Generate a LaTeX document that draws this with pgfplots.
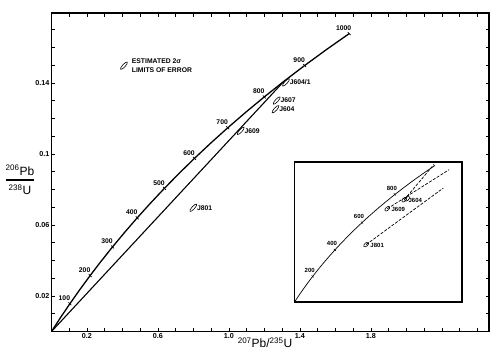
\documentclass[border=0pt]{standalone}
\usepackage{fontspec}
\setmainfont{Liberation Sans}
\usepackage{amsmath}
\usepackage{pgfplots}
\usepackage{pgfplotstable}
\pgfplotsset{compat=1.18}

\pgfdeclareplotmark{errell}{%
  \pgfpathellipse{\pgfpointorigin}{\pgfpoint{3.3pt}{3.6pt}}{\pgfpoint{-1.05pt}{0.95pt}}%
  \pgfusepathqstroke}
\pgfdeclareplotmark{errellsmall}{%
  \pgfpathellipse{\pgfpointorigin}{\pgfpoint{2.2pt}{2.0pt}}{\pgfpoint{-1.1pt}{1.2pt}}%
  \pgfusepathqstroke}

% concordia: 207Pb/235U (x), 206Pb/238U (y), t in Ma
\pgfplotstableread{
t x y
0 0 0
50 0.050475 0.007786
100 0.10350 0.015633
150 0.15920 0.023542
200 0.21771 0.031511
250 0.27917 0.039543
300 0.34374 0.047637
350 0.41156 0.055795
400 0.48281 0.064016
450 0.55766 0.072300
500 0.63628 0.080650
550 0.71887 0.089064
600 0.80563 0.097544
650 0.89677 0.10609
700 0.99251 0.11470
750 1.09308 0.12338
800 1.19873 0.13213
850 1.30971 0.14094
900 1.42629 0.14983
950 1.54876 0.15878
1000 1.67740 0.16780
}\concordia

\pgfplotstableread{
x y lab
0.10350 0.015633 100
0.21771 0.031511 200
0.34374 0.047637 300
0.48281 0.064016 400
0.63628 0.080650 500
0.80563 0.097544 600
0.99251 0.11470 700
1.19873 0.13213 800
1.42629 0.14983 900
1.67740 0.16780 1000
}\ages

\pgfplotstableread{
x y lab
1.066 0.1130 J609
1.321 0.1403 J604/1
1.269 0.1301 J607
1.262 0.1252 J604
0.799 0.0697 J801
}\samples

\pgfplotstableread{
x y lab
0.21771 0.031511 200
0.48281 0.064016 400
0.80563 0.097544 600
1.19873 0.13213 800
}\insetages

\pgfplotstableread{
x y lab
0.856 0.0706 J801
1.108 0.1146 J609
1.311 0.1257 J604
}\insetsamples

\begin{document}
\begin{tikzpicture}
\useasboundingbox (-51.5pt,-28.5pt) rectangle (448.5pt,331.5pt);
\begin{axis}[
  at={(0pt,0pt)}, anchor=south west,
  scale only axis, width=437.5pt, height=318.5pt,
  xmin=0, xmax=2.465, ymin=0, ymax=0.1794,
  xtick={0.2,0.6,1.0,1.4,1.8}, xticklabels={0.2,0.6,1.0,1.4,1.8},
  minor xtick={0.1,0.3,0.4,0.5,0.7,0.8,0.9,1.1,1.2,1.3,1.5,1.6,1.7,1.9,2.0,2.1,2.2,2.3,2.4},
  ytick={0.02,0.06,0.1,0.14}, yticklabels={0.02,0.06,0.1,0.14},
  minor ytick={0.01,0.03,0.04,0.05,0.07,0.08,0.09,0.11,0.12,0.13,0.15,0.16,0.17},
  major tick length=3.5pt, minor tick length=3.5pt,
  tick style={line width=0.7pt, black},
  axis line style={line width=1.5pt},
  ticklabel style={font=\fontsize{7.2}{8}\selectfont\bfseries},
  xticklabel style={inner sep=1.5pt},
  yticklabel style={inner sep=2pt},
  xlabel={\textsuperscript{207}Pb/\textsuperscript{235}U},
  xlabel style={at={(axis description cs:0.488,0)}, anchor=center, yshift=-11pt, font=\fontsize{12}{13}\selectfont},
  ylabel={$\genfrac{}{}{1.3pt}{0}{\mbox{\textsuperscript{206}Pb}}{\mbox{\textsuperscript{238}U}}$},
  ylabel style={rotate=-90, at={(axis description cs:-0.072,0.476)}, anchor=center, font=\fontsize{12}{13}\selectfont},
]
\addplot[line width=1.3pt] table[x=x,y=y] {\concordia};
\addplot[line width=1.1pt] coordinates {(0,0) (1.30971,0.14094)};
\addplot[only marks, mark=|, mark size=2pt, mark options={rotate=45, line width=0.7pt},
  nodes near coords, point meta=explicit symbolic,
  nodes near coords style={font=\fontsize{6.8}{8}\selectfont\bfseries, anchor=center, xshift=-5.5pt, yshift=5.5pt, inner sep=0pt}]
  table[x=x,y=y,meta=lab] {\ages};
\addplot[only marks, mark=errell, mark options={line width=0.6pt},
  nodes near coords, point meta=explicit symbolic,
  nodes near coords style={font=\fontsize{6.8}{8}\selectfont\bfseries, anchor=west, xshift=3.5pt, yshift=0pt, inner sep=0pt}]
  table[x=x,y=y,meta=lab] {\samples};
\addplot[only marks, mark=errell, mark options={line width=0.6pt}] coordinates {(0.408,0.1497)};
\node[anchor=west, align=left, font=\fontsize{6.8}{9.7}\selectfont\bfseries, inner sep=0pt] at (axis cs:0.452,0.14966) {ESTIMATED 2σ\\LIMITS OF ERROR};
\end{axis}

\begin{axis}[
  at={(243pt,29.5pt)}, anchor=south west,
  scale only axis, width=167.5pt, height=140pt,
  xmin=0, xmax=2.0, ymin=0, ymax=0.172,
  ticks=none,
  axis line style={line width=1.5pt},
  axis background/.style={fill=white},
]
\addplot[line width=0.7pt] table[x=x,y=y] {\concordia};
\addplot[only marks, mark=|, mark size=1.5pt, mark options={rotate=45, line width=0.5pt},
  nodes near coords, point meta=explicit symbolic,
  nodes near coords style={font=\fontsize{6}{7}\selectfont\bfseries, anchor=center, xshift=-3pt, yshift=6pt, inner sep=0pt}]
  table[x=x,y=y,meta=lab] {\insetages};
\addplot[dashed, dash pattern=on 3pt off 1.5pt, line width=0.7pt] coordinates {(0.856,0.0706) (1.777,0.140)};
\addplot[dashed, dash pattern=on 3pt off 1.5pt, line width=0.7pt] coordinates {(1.108,0.1146) (1.845,0.1625)};
\addplot[dashed, dash pattern=on 3pt off 1.5pt, line width=0.7pt] coordinates {(1.311,0.1257) (1.665,0.1690)};
\addplot[only marks, mark=errellsmall, mark options={line width=0.6pt}] coordinates {(1.345,0.1268)};
\addplot[only marks, mark=errellsmall, mark options={line width=0.6pt},
  nodes near coords, point meta=explicit symbolic,
  nodes near coords style={font=\fontsize{6}{7}\selectfont\bfseries, anchor=west, xshift=4pt, yshift=-1pt, inner sep=0pt}]
  table[x=x,y=y,meta=lab] {\insetsamples};
\end{axis}
\end{tikzpicture}
\end{document}
